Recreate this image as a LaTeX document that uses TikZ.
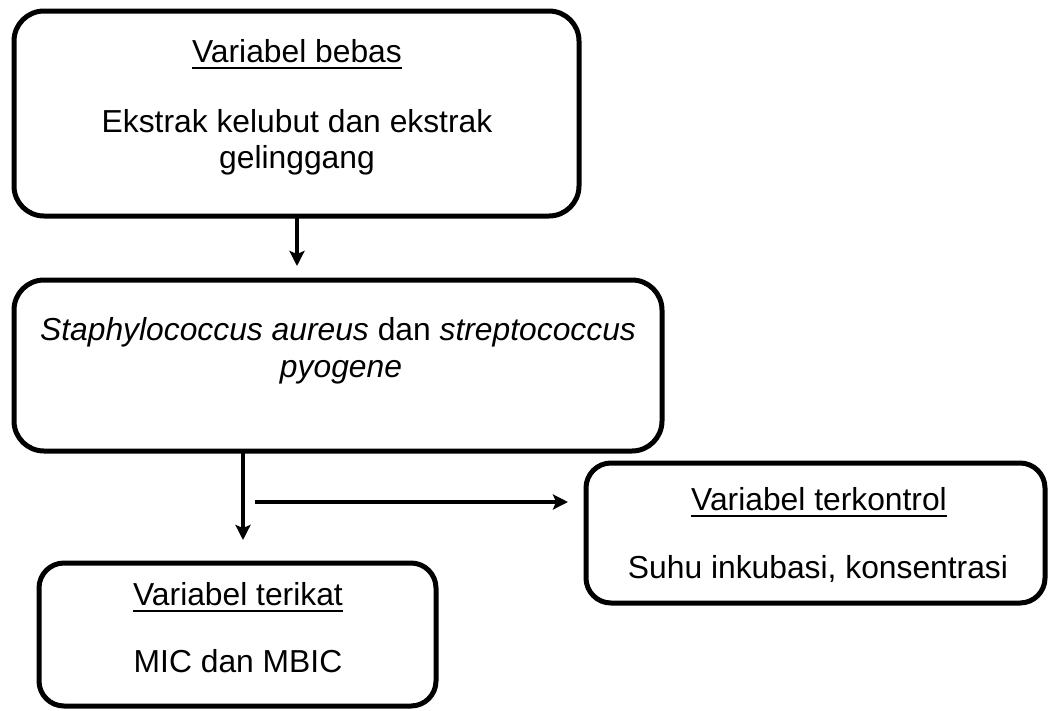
\documentclass[tikz,border=0pt]{standalone}
\usepackage{fontspec}
\setmainfont{Liberation Sans}
\usetikzlibrary{arrows.meta}
\begin{document}
\begin{tikzpicture}[x=1pt,y=-1pt,
  box/.style={draw=black,line width=5pt,rounded corners=30pt,rectangle,inner sep=0pt,fill=none},
  txt/.style={inner sep=0pt,anchor=base,font=\fontsize{31.8}{36.5}\selectfont},
  itxt/.style={txt,font=\fontsize{31.8}{36.5}\selectfont},
  uline/.style={line width=2.5pt},
  conn/.style={line width=4pt,-{Stealth[length=15pt,width=15pt,inset=3pt]}}]
\useasboundingbox (0,0) rectangle (1049,710);
% boxes
\node[box,minimum width=565pt,minimum height=205pt] (b1) at (296.5,113.5) {};
\node[box,minimum width=648pt,minimum height=171pt] (b2) at (338,365.5) {};
\node[box,rounded corners=25pt,minimum width=459pt,minimum height=140pt] (b3) at (815.5,533) {};
\node[box,rounded corners=25pt,minimum width=397pt,minimum height=143pt] (b4) at (237.5,634.5) {};
% texts box 1
\node[txt] (t1a) at (297,62) {Variabel bebas};
\draw[uline] ([yshift=-6pt]t1a.base west) -- ([yshift=-6pt]t1a.base east);
\node[txt] (t1b) at (297,132) {Ekstrak kelubut dan ekstrak};
\node[txt] (t1c) at (297,168) {gelinggang};
% texts box 2
\node[txt] (t2a) at (338,340) {\textit{Staphylococcus aureus} dan \textit{streptococcus}};
\node[txt] (t2b) at (341,377) {\textit{pyogene}};
% texts box 3
\node[txt] (t3a) at (819,510) {Variabel terkontrol};
\draw[uline] ([yshift=-6pt]t3a.base west) -- ([yshift=-6pt]t3a.base east);
\node[txt] (t3b) at (818,578) {Suhu inkubasi, konsentrasi};
% texts box 4
\node[txt] (t4a) at (238,605) {Variabel terikat};
\draw[uline] ([yshift=-6pt]t4a.base west) -- ([yshift=-6pt]t4a.base east);
\node[txt] (t4b) at (238,672) {MIC dan MBIC};
% connectors
\coordinate (a1s) at (297,216);
\coordinate (a1e) at (297,266);
\coordinate (a2s) at (243,451);
\coordinate (a2e) at (243,540);
\coordinate (a3s) at (255,502);
\coordinate (a3e) at (568,502);
\draw[conn] (a1s) -- (a1e);
\draw[conn] (a2s) -- (a2e);
\draw[conn] (a3s) -- (a3e);
\end{tikzpicture}
\end{document}
